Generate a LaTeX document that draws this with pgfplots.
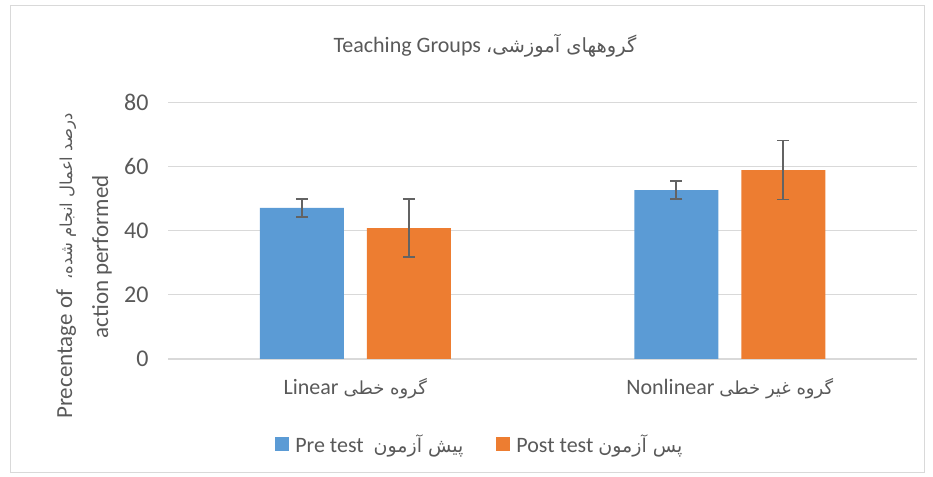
\documentclass[border=0pt]{standalone}
\usepackage{fontspec}
\usepackage{pgfplots}
\pgfplotsset{compat=1.18}
\setmainfont{Carlito}
\newfontfamily\fa[Script=Arabic]{DejaVu Sans}
\TeXXeTstate=1
\definecolor{txt}{HTML}{595959}
\definecolor{gridc}{HTML}{D9D9D9}
\definecolor{cblue}{HTML}{5B9BD5}
\definecolor{corange}{HTML}{ED7D31}
\definecolor{errc}{HTML}{636363}
\begin{document}
\begin{tikzpicture}[x=1pt,y=1pt]
\useasboundingbox (0,0) rectangle (933,476);
\draw[gridc, line width=1pt] (10,4) rectangle (924,470);
\begin{axis}[
  at={(168pt,117pt)}, anchor=south west,
  scale only axis, width=749pt, height=256.7pt,
  ybar=23pt, bar width=84pt,
  xmin=-0.5, xmax=1.5, ymin=0, ymax=80,
  xtick={0,1},
  xticklabels={{Linear\ {\fa\fontsize{18}{18}\selectfont\beginR گروه خطی\endR}}, {Nonlinear\ {\fa\fontsize{18}{18}\selectfont\beginR گروه غیر خطی\endR}}},
  ytick={0,20,40,60,80},
  axis line style={draw=none},
  major tick length=0pt,
  xmajorgrids=false, ymajorgrids=true, grid style={gridc, line width=1.3pt},
  /pgf/number format/assume math mode=true,
  yticklabel style={font=\fontsize{24}{24}\selectfont, text=txt, xshift=-16pt},
  xticklabel style={font=\fontsize{22}{22}\selectfont, text=txt, yshift=-16pt},
  legend style={at={(0.415,-0.333)}, anchor=center, draw=none, fill=none,
    legend columns=2, font=\fontsize{22}{22}\selectfont, text=txt,
    nodes={inner sep=0pt},
    /tikz/every odd column/.append style={column sep=6pt},
    /tikz/every even column/.append style={column sep=33pt}},
  legend image code/.code={\fill[#1] (0pt,-7pt) rectangle (14pt,7pt);},
  error bars/y dir=both, error bars/y explicit,
  error bars/error bar style={errc, line width=1.8pt},
  error bars/error mark options={errc, rotate=90, mark size=6pt, line width=1.8pt},
]
\addplot[fill=cblue, draw=none] coordinates {(0,47.1) +- (0,2.75) (1,52.6) +- (0,2.8)};
\addplot[fill=corange, draw=none] coordinates {(0,40.8) +- (0,9.1) (1,58.9) +- (0,9.2)};
\legend{{Pre test\ \ {\fa\fontsize{19}{19}\selectfont\beginR پیش آزمون\endR}}, {Post test\ {\fa\fontsize{19}{19}\selectfont\beginR پس آزمون\endR}}}
\end{axis}
\node[anchor=base, text=txt, font=\fontsize{22}{22}\selectfont] at (485,423) {Teaching Groups\ {\fa\fontsize{19.5}{19.5}\selectfont\beginR گروههای آموزشی،\endR}};
\node[anchor=base, rotate=90, text=txt, font=\fontsize{23}{23}\selectfont] at (72,210) {Precentage of\ \ {\fa\fontsize{16.5}{16.5}\selectfont\beginR درصد اعمال انجام شده،\endR}};
\node[anchor=base, rotate=90, text=txt, font=\fontsize{23}{23}\selectfont] at (108,219) {action performed};
\end{tikzpicture}
\end{document}
